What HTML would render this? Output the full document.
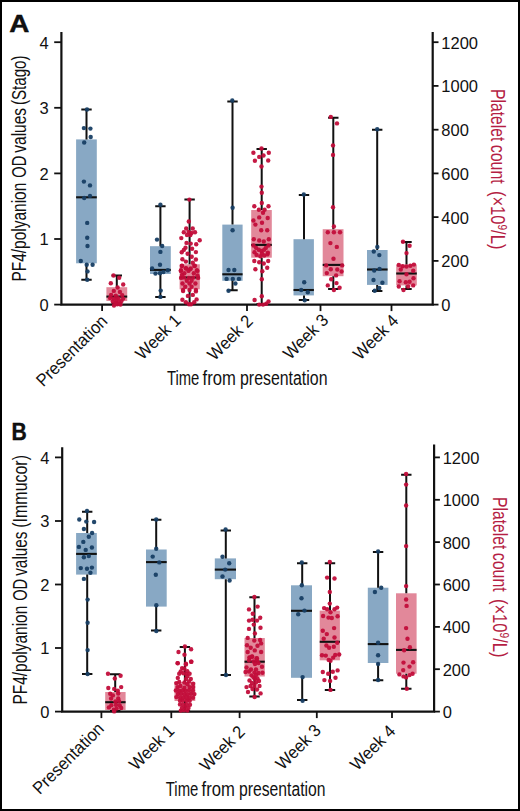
<!DOCTYPE html>
<html><head><meta charset="utf-8"><style>
html,body{margin:0;padding:0;background:#fff;}
body{width:520px;height:811px;overflow:hidden;}
svg{display:block;}
text{font-family:"Liberation Sans",sans-serif;fill:#111;}
.tk{font-size:16.5px;}
.cat{font-size:17.5px;}
.ttl{font-size:19.5px;}
.lab{font-size:24px;font-weight:bold;stroke:#000;stroke-width:0.4px;}
</style></head><body>
<svg width="520" height="811" viewBox="0 0 520 811">
<rect x="0" y="0" width="520" height="811" fill="#fff"/>
<rect x="76.1" y="139.4" width="20.7" height="123.9" fill="#88a8c4"/>
<line x1="76.1" y1="197.3" x2="96.8" y2="197.3" stroke="#111111" stroke-width="2.1"/>
<rect x="106.4" y="287.2" width="20.8" height="13.8" fill="#e2889a"/>
<line x1="106.4" y1="296.6" x2="127.2" y2="296.6" stroke="#111111" stroke-width="2.1"/>
<rect x="150.0" y="246.2" width="20.8" height="27.8" fill="#88a8c4"/>
<line x1="150.0" y1="269.9" x2="170.8" y2="269.9" stroke="#111111" stroke-width="2.1"/>
<rect x="179.6" y="264.3" width="20.2" height="25.0" fill="#e2889a"/>
<line x1="179.6" y1="277.5" x2="199.8" y2="277.5" stroke="#111111" stroke-width="2.1"/>
<rect x="222.3" y="224.6" width="20.3" height="56.2" fill="#88a8c4"/>
<line x1="222.3" y1="274.3" x2="242.6" y2="274.3" stroke="#111111" stroke-width="2.1"/>
<rect x="251.2" y="210.0" width="20.6" height="47.7" fill="#e2889a"/>
<line x1="251.2" y1="244.9" x2="271.8" y2="244.9" stroke="#111111" stroke-width="2.1"/>
<rect x="293.5" y="239.2" width="20.4" height="56.2" fill="#88a8c4"/>
<line x1="293.5" y1="290.0" x2="313.9" y2="290.0" stroke="#111111" stroke-width="2.1"/>
<rect x="322.7" y="229.2" width="20.8" height="47.0" fill="#e2889a"/>
<line x1="322.7" y1="264.9" x2="343.5" y2="264.9" stroke="#111111" stroke-width="2.1"/>
<rect x="367.0" y="250.0" width="20.6" height="34.9" fill="#88a8c4"/>
<line x1="367.0" y1="269.5" x2="387.6" y2="269.5" stroke="#111111" stroke-width="2.1"/>
<rect x="396.2" y="264.6" width="20.6" height="20.8" fill="#e2889a"/>
<line x1="396.2" y1="273.5" x2="416.8" y2="273.5" stroke="#111111" stroke-width="2.1"/>
<path d="M86.5 109.5V139.4M86.5 263.3V279.8M81.3 109.5H91.7M81.3 279.8H91.7" stroke="#111111" stroke-width="2.0" fill="none"/>
<path d="M116.8 275.5V287.2M116.8 301.0V303.5M111.6 275.5H122.0M111.6 303.5H122.0" stroke="#111111" stroke-width="2.0" fill="none"/>
<path d="M160.4 206.3V246.2M160.4 274.0V296.9M155.2 206.3H165.6M155.2 296.9H165.6" stroke="#111111" stroke-width="2.0" fill="none"/>
<path d="M189.6 199.6V264.3M189.6 289.3V304.0M184.4 199.6H194.8M184.4 304.0H194.8" stroke="#111111" stroke-width="2.0" fill="none"/>
<path d="M232.5 101.5V224.6M232.5 280.8V290.3M227.3 101.5H237.7M227.3 290.3H237.7" stroke="#111111" stroke-width="2.0" fill="none"/>
<path d="M261.7 148.9V210.0M261.7 257.7V304.0M256.5 148.9H266.9M256.5 304.0H266.9" stroke="#111111" stroke-width="2.0" fill="none"/>
<path d="M304.0 195.1V239.2M304.0 295.4V300.0M298.8 195.1H309.2M298.8 300.0H309.2" stroke="#111111" stroke-width="2.0" fill="none"/>
<path d="M333.3 117.7V229.2M333.3 276.2V288.9M328.1 117.7H338.5M328.1 288.9H338.5" stroke="#111111" stroke-width="2.0" fill="none"/>
<path d="M377.2 129.7V250.0M377.2 284.9V291.1M372.0 129.7H382.4M372.0 291.1H382.4" stroke="#111111" stroke-width="2.0" fill="none"/>
<path d="M406.5 242.0V264.6M406.5 285.4V288.9M401.3 242.0H411.7M401.3 288.9H411.7" stroke="#111111" stroke-width="2.0" fill="none"/>
<path d="M61.4 32 V304.6 H432.7 V32" fill="none" stroke="#111111" stroke-width="2.2"/>
<circle cx="87.0" cy="109.5" r="2.2" fill="#173e64" fill-opacity="0.95"/>
<circle cx="83.9" cy="128.1" r="2.2" fill="#173e64" fill-opacity="0.95"/>
<circle cx="90.4" cy="128.6" r="2.2" fill="#173e64" fill-opacity="0.95"/>
<circle cx="90.7" cy="137.0" r="2.2" fill="#173e64" fill-opacity="0.95"/>
<circle cx="84.2" cy="142.5" r="2.2" fill="#173e64" fill-opacity="0.95"/>
<circle cx="83.9" cy="181.6" r="2.2" fill="#173e64" fill-opacity="0.95"/>
<circle cx="90.0" cy="185.4" r="2.2" fill="#173e64" fill-opacity="0.95"/>
<circle cx="84.2" cy="198.0" r="2.2" fill="#173e64" fill-opacity="0.95"/>
<circle cx="90.0" cy="195.9" r="2.2" fill="#173e64" fill-opacity="0.95"/>
<circle cx="87.2" cy="222.9" r="2.2" fill="#173e64" fill-opacity="0.95"/>
<circle cx="87.2" cy="237.7" r="2.2" fill="#173e64" fill-opacity="0.95"/>
<circle cx="87.5" cy="246.0" r="2.2" fill="#173e64" fill-opacity="0.95"/>
<circle cx="80.8" cy="261.0" r="2.2" fill="#173e64" fill-opacity="0.95"/>
<circle cx="86.7" cy="264.7" r="2.2" fill="#173e64" fill-opacity="0.95"/>
<circle cx="92.6" cy="264.7" r="2.2" fill="#173e64" fill-opacity="0.95"/>
<circle cx="87.5" cy="271.4" r="2.2" fill="#173e64" fill-opacity="0.95"/>
<circle cx="87.2" cy="279.8" r="2.2" fill="#173e64" fill-opacity="0.95"/>
<circle cx="113.5" cy="275.5" r="2.2" fill="#c20d3a" fill-opacity="0.95"/>
<circle cx="119.2" cy="277.8" r="2.2" fill="#c20d3a" fill-opacity="0.95"/>
<circle cx="110.8" cy="283.3" r="2.2" fill="#c20d3a" fill-opacity="0.95"/>
<circle cx="123.2" cy="284.5" r="2.2" fill="#c20d3a" fill-opacity="0.95"/>
<circle cx="117.6" cy="287.5" r="2.2" fill="#c20d3a" fill-opacity="0.95"/>
<circle cx="113.8" cy="290.9" r="2.2" fill="#c20d3a" fill-opacity="0.95"/>
<circle cx="119.9" cy="291.9" r="2.2" fill="#c20d3a" fill-opacity="0.95"/>
<circle cx="111.1" cy="294.9" r="2.2" fill="#c20d3a" fill-opacity="0.95"/>
<circle cx="115.8" cy="295.6" r="2.2" fill="#c20d3a" fill-opacity="0.95"/>
<circle cx="122.2" cy="295.3" r="2.2" fill="#c20d3a" fill-opacity="0.95"/>
<circle cx="110.1" cy="298.0" r="2.2" fill="#c20d3a" fill-opacity="0.95"/>
<circle cx="113.8" cy="298.6" r="2.2" fill="#c20d3a" fill-opacity="0.95"/>
<circle cx="118.2" cy="298.3" r="2.2" fill="#c20d3a" fill-opacity="0.95"/>
<circle cx="123.2" cy="298.6" r="2.2" fill="#c20d3a" fill-opacity="0.95"/>
<circle cx="112.8" cy="301.6" r="2.2" fill="#c20d3a" fill-opacity="0.95"/>
<circle cx="115.5" cy="303.0" r="2.2" fill="#c20d3a" fill-opacity="0.95"/>
<circle cx="119.2" cy="302.3" r="2.2" fill="#c20d3a" fill-opacity="0.95"/>
<circle cx="121.5" cy="301.0" r="2.2" fill="#c20d3a" fill-opacity="0.95"/>
<circle cx="117.2" cy="304.3" r="2.2" fill="#c20d3a" fill-opacity="0.95"/>
<circle cx="116.5" cy="300.0" r="2.2" fill="#c20d3a" fill-opacity="0.95"/>
<circle cx="120.5" cy="304.5" r="2.2" fill="#c20d3a" fill-opacity="0.95"/>
<circle cx="114.0" cy="305.5" r="2.2" fill="#c20d3a" fill-opacity="0.95"/>
<circle cx="160.4" cy="204.8" r="2.2" fill="#173e64" fill-opacity="0.95"/>
<circle cx="157.0" cy="239.6" r="2.2" fill="#173e64" fill-opacity="0.95"/>
<circle cx="162.2" cy="246.0" r="2.2" fill="#173e64" fill-opacity="0.95"/>
<circle cx="160.4" cy="251.9" r="2.2" fill="#173e64" fill-opacity="0.95"/>
<circle cx="160.0" cy="264.7" r="2.2" fill="#173e64" fill-opacity="0.95"/>
<circle cx="152.1" cy="268.4" r="2.2" fill="#173e64" fill-opacity="0.95"/>
<circle cx="155.5" cy="273.6" r="2.2" fill="#173e64" fill-opacity="0.95"/>
<circle cx="160.0" cy="273.2" r="2.2" fill="#173e64" fill-opacity="0.95"/>
<circle cx="163.4" cy="272.1" r="2.2" fill="#173e64" fill-opacity="0.95"/>
<circle cx="167.8" cy="270.2" r="2.2" fill="#173e64" fill-opacity="0.95"/>
<circle cx="160.7" cy="290.6" r="2.2" fill="#173e64" fill-opacity="0.95"/>
<circle cx="160.4" cy="296.9" r="2.2" fill="#173e64" fill-opacity="0.95"/>
<circle cx="189.4" cy="199.6" r="2.2" fill="#c20d3a" fill-opacity="0.95"/>
<circle cx="188.8" cy="221.5" r="2.2" fill="#c20d3a" fill-opacity="0.95"/>
<circle cx="186.2" cy="228.5" r="2.2" fill="#c20d3a" fill-opacity="0.95"/>
<circle cx="192.7" cy="228.5" r="2.2" fill="#c20d3a" fill-opacity="0.95"/>
<circle cx="183.8" cy="232.3" r="2.2" fill="#c20d3a" fill-opacity="0.95"/>
<circle cx="188.5" cy="232.0" r="2.2" fill="#c20d3a" fill-opacity="0.95"/>
<circle cx="191.5" cy="233.0" r="2.2" fill="#c20d3a" fill-opacity="0.95"/>
<circle cx="195.0" cy="232.3" r="2.2" fill="#c20d3a" fill-opacity="0.95"/>
<circle cx="187.0" cy="235.0" r="2.2" fill="#c20d3a" fill-opacity="0.95"/>
<circle cx="190.4" cy="235.0" r="2.2" fill="#c20d3a" fill-opacity="0.95"/>
<circle cx="181.3" cy="238.1" r="2.2" fill="#c20d3a" fill-opacity="0.95"/>
<circle cx="199.7" cy="240.2" r="2.2" fill="#c20d3a" fill-opacity="0.95"/>
<circle cx="186.5" cy="242.9" r="2.2" fill="#c20d3a" fill-opacity="0.95"/>
<circle cx="190.7" cy="243.6" r="2.2" fill="#c20d3a" fill-opacity="0.95"/>
<circle cx="196.2" cy="244.3" r="2.2" fill="#c20d3a" fill-opacity="0.95"/>
<circle cx="185.5" cy="247.8" r="2.2" fill="#c20d3a" fill-opacity="0.95"/>
<circle cx="183.8" cy="249.9" r="2.2" fill="#c20d3a" fill-opacity="0.95"/>
<circle cx="181.7" cy="252.3" r="2.2" fill="#c20d3a" fill-opacity="0.95"/>
<circle cx="192.1" cy="248.8" r="2.2" fill="#c20d3a" fill-opacity="0.95"/>
<circle cx="195.9" cy="252.1" r="2.2" fill="#c20d3a" fill-opacity="0.95"/>
<circle cx="187.6" cy="253.7" r="2.2" fill="#c20d3a" fill-opacity="0.95"/>
<circle cx="191.7" cy="256.8" r="2.2" fill="#c20d3a" fill-opacity="0.95"/>
<circle cx="182.4" cy="259.2" r="2.2" fill="#c20d3a" fill-opacity="0.95"/>
<circle cx="185.9" cy="261.6" r="2.2" fill="#c20d3a" fill-opacity="0.95"/>
<circle cx="195.9" cy="259.5" r="2.2" fill="#c20d3a" fill-opacity="0.95"/>
<circle cx="192.8" cy="262.7" r="2.2" fill="#c20d3a" fill-opacity="0.95"/>
<circle cx="182.0" cy="265.8" r="2.2" fill="#c20d3a" fill-opacity="0.95"/>
<circle cx="194.9" cy="265.8" r="2.2" fill="#c20d3a" fill-opacity="0.95"/>
<circle cx="185.9" cy="268.2" r="2.2" fill="#c20d3a" fill-opacity="0.95"/>
<circle cx="181.0" cy="270.3" r="2.2" fill="#c20d3a" fill-opacity="0.95"/>
<circle cx="190.0" cy="269.2" r="2.2" fill="#c20d3a" fill-opacity="0.95"/>
<circle cx="196.9" cy="270.3" r="2.2" fill="#c20d3a" fill-opacity="0.95"/>
<circle cx="181.9" cy="266.0" r="2.2" fill="#c20d3a" fill-opacity="0.95"/>
<circle cx="194.3" cy="266.0" r="2.2" fill="#c20d3a" fill-opacity="0.95"/>
<circle cx="186.0" cy="268.5" r="2.2" fill="#c20d3a" fill-opacity="0.95"/>
<circle cx="190.8" cy="268.5" r="2.2" fill="#c20d3a" fill-opacity="0.95"/>
<circle cx="180.8" cy="270.9" r="2.2" fill="#c20d3a" fill-opacity="0.95"/>
<circle cx="188.4" cy="270.9" r="2.2" fill="#c20d3a" fill-opacity="0.95"/>
<circle cx="197.5" cy="270.9" r="2.2" fill="#c20d3a" fill-opacity="0.95"/>
<circle cx="184.3" cy="273.3" r="2.2" fill="#c20d3a" fill-opacity="0.95"/>
<circle cx="193.8" cy="273.3" r="2.2" fill="#c20d3a" fill-opacity="0.95"/>
<circle cx="181.1" cy="277.9" r="2.2" fill="#c20d3a" fill-opacity="0.95"/>
<circle cx="184.1" cy="277.6" r="2.2" fill="#c20d3a" fill-opacity="0.95"/>
<circle cx="188.9" cy="277.9" r="2.2" fill="#c20d3a" fill-opacity="0.95"/>
<circle cx="193.2" cy="277.6" r="2.2" fill="#c20d3a" fill-opacity="0.95"/>
<circle cx="198.1" cy="277.9" r="2.2" fill="#c20d3a" fill-opacity="0.95"/>
<circle cx="186.8" cy="280.8" r="2.2" fill="#c20d3a" fill-opacity="0.95"/>
<circle cx="191.6" cy="280.8" r="2.2" fill="#c20d3a" fill-opacity="0.95"/>
<circle cx="182.5" cy="283.5" r="2.2" fill="#c20d3a" fill-opacity="0.95"/>
<circle cx="189.5" cy="283.5" r="2.2" fill="#c20d3a" fill-opacity="0.95"/>
<circle cx="195.4" cy="283.5" r="2.2" fill="#c20d3a" fill-opacity="0.95"/>
<circle cx="185.2" cy="286.8" r="2.2" fill="#c20d3a" fill-opacity="0.95"/>
<circle cx="191.6" cy="286.8" r="2.2" fill="#c20d3a" fill-opacity="0.95"/>
<circle cx="183.0" cy="290.0" r="2.2" fill="#c20d3a" fill-opacity="0.95"/>
<circle cx="189.5" cy="290.0" r="2.2" fill="#c20d3a" fill-opacity="0.95"/>
<circle cx="195.9" cy="290.0" r="2.2" fill="#c20d3a" fill-opacity="0.95"/>
<circle cx="197.5" cy="275.5" r="2.2" fill="#c20d3a" fill-opacity="0.95"/>
<circle cx="182.0" cy="275.0" r="2.2" fill="#c20d3a" fill-opacity="0.95"/>
<circle cx="183.1" cy="291.1" r="2.2" fill="#c20d3a" fill-opacity="0.95"/>
<circle cx="195.9" cy="291.4" r="2.2" fill="#c20d3a" fill-opacity="0.95"/>
<circle cx="187.9" cy="295.9" r="2.2" fill="#c20d3a" fill-opacity="0.95"/>
<circle cx="192.8" cy="294.9" r="2.2" fill="#c20d3a" fill-opacity="0.95"/>
<circle cx="182.4" cy="299.7" r="2.2" fill="#c20d3a" fill-opacity="0.95"/>
<circle cx="196.6" cy="299.4" r="2.2" fill="#c20d3a" fill-opacity="0.95"/>
<circle cx="185.9" cy="302.2" r="2.2" fill="#c20d3a" fill-opacity="0.95"/>
<circle cx="194.2" cy="302.2" r="2.2" fill="#c20d3a" fill-opacity="0.95"/>
<circle cx="189.0" cy="304.2" r="2.2" fill="#c20d3a" fill-opacity="0.95"/>
<circle cx="191.0" cy="304.2" r="2.2" fill="#c20d3a" fill-opacity="0.95"/>
<circle cx="232.3" cy="100.5" r="2.2" fill="#173e64" fill-opacity="0.95"/>
<circle cx="232.6" cy="207.7" r="2.2" fill="#173e64" fill-opacity="0.95"/>
<circle cx="232.6" cy="230.3" r="2.2" fill="#173e64" fill-opacity="0.95"/>
<circle cx="228.5" cy="270.0" r="2.2" fill="#173e64" fill-opacity="0.95"/>
<circle cx="234.3" cy="270.0" r="2.2" fill="#173e64" fill-opacity="0.95"/>
<circle cx="226.6" cy="278.9" r="2.2" fill="#173e64" fill-opacity="0.95"/>
<circle cx="232.8" cy="278.9" r="2.2" fill="#173e64" fill-opacity="0.95"/>
<circle cx="238.9" cy="278.9" r="2.2" fill="#173e64" fill-opacity="0.95"/>
<circle cx="235.4" cy="283.5" r="2.2" fill="#173e64" fill-opacity="0.95"/>
<circle cx="228.5" cy="290.8" r="2.2" fill="#173e64" fill-opacity="0.95"/>
<circle cx="261.5" cy="148.5" r="2.2" fill="#c20d3a" fill-opacity="0.95"/>
<circle cx="253.4" cy="152.8" r="2.2" fill="#c20d3a" fill-opacity="0.95"/>
<circle cx="268.8" cy="152.8" r="2.2" fill="#c20d3a" fill-opacity="0.95"/>
<circle cx="259.2" cy="156.9" r="2.2" fill="#c20d3a" fill-opacity="0.95"/>
<circle cx="263.5" cy="155.5" r="2.2" fill="#c20d3a" fill-opacity="0.95"/>
<circle cx="254.9" cy="160.8" r="2.2" fill="#c20d3a" fill-opacity="0.95"/>
<circle cx="268.2" cy="160.5" r="2.2" fill="#c20d3a" fill-opacity="0.95"/>
<circle cx="261.5" cy="166.5" r="2.2" fill="#c20d3a" fill-opacity="0.95"/>
<circle cx="261.5" cy="186.6" r="2.2" fill="#c20d3a" fill-opacity="0.95"/>
<circle cx="261.8" cy="192.8" r="2.2" fill="#c20d3a" fill-opacity="0.95"/>
<circle cx="261.8" cy="203.0" r="2.2" fill="#c20d3a" fill-opacity="0.95"/>
<circle cx="254.3" cy="206.2" r="2.2" fill="#c20d3a" fill-opacity="0.95"/>
<circle cx="268.5" cy="206.2" r="2.2" fill="#c20d3a" fill-opacity="0.95"/>
<circle cx="258.9" cy="209.7" r="2.2" fill="#c20d3a" fill-opacity="0.95"/>
<circle cx="264.6" cy="209.7" r="2.2" fill="#c20d3a" fill-opacity="0.95"/>
<circle cx="263.0" cy="212.8" r="2.2" fill="#c20d3a" fill-opacity="0.95"/>
<circle cx="259.2" cy="217.4" r="2.2" fill="#c20d3a" fill-opacity="0.95"/>
<circle cx="267.7" cy="218.0" r="2.2" fill="#c20d3a" fill-opacity="0.95"/>
<circle cx="253.4" cy="220.5" r="2.2" fill="#c20d3a" fill-opacity="0.95"/>
<circle cx="255.4" cy="224.6" r="2.2" fill="#c20d3a" fill-opacity="0.95"/>
<circle cx="262.0" cy="222.8" r="2.2" fill="#c20d3a" fill-opacity="0.95"/>
<circle cx="261.2" cy="230.3" r="2.2" fill="#c20d3a" fill-opacity="0.95"/>
<circle cx="267.2" cy="230.3" r="2.2" fill="#c20d3a" fill-opacity="0.95"/>
<circle cx="253.8" cy="239.2" r="2.2" fill="#c20d3a" fill-opacity="0.95"/>
<circle cx="259.2" cy="240.5" r="2.2" fill="#c20d3a" fill-opacity="0.95"/>
<circle cx="263.8" cy="241.5" r="2.2" fill="#c20d3a" fill-opacity="0.95"/>
<circle cx="268.8" cy="239.2" r="2.2" fill="#c20d3a" fill-opacity="0.95"/>
<circle cx="256.1" cy="247.9" r="2.2" fill="#c20d3a" fill-opacity="0.95"/>
<circle cx="265.8" cy="247.9" r="2.2" fill="#c20d3a" fill-opacity="0.95"/>
<circle cx="258.8" cy="249.8" r="2.2" fill="#c20d3a" fill-opacity="0.95"/>
<circle cx="264.2" cy="249.8" r="2.2" fill="#c20d3a" fill-opacity="0.95"/>
<circle cx="254.5" cy="252.2" r="2.2" fill="#c20d3a" fill-opacity="0.95"/>
<circle cx="261.5" cy="251.0" r="2.2" fill="#c20d3a" fill-opacity="0.95"/>
<circle cx="267.9" cy="252.8" r="2.2" fill="#c20d3a" fill-opacity="0.95"/>
<circle cx="256.6" cy="254.9" r="2.2" fill="#c20d3a" fill-opacity="0.95"/>
<circle cx="260.4" cy="256.3" r="2.2" fill="#c20d3a" fill-opacity="0.95"/>
<circle cx="264.2" cy="255.5" r="2.2" fill="#c20d3a" fill-opacity="0.95"/>
<circle cx="267.4" cy="254.4" r="2.2" fill="#c20d3a" fill-opacity="0.95"/>
<circle cx="253.5" cy="245.5" r="2.2" fill="#c20d3a" fill-opacity="0.95"/>
<circle cx="268.5" cy="245.5" r="2.2" fill="#c20d3a" fill-opacity="0.95"/>
<circle cx="262.0" cy="253.5" r="2.2" fill="#c20d3a" fill-opacity="0.95"/>
<circle cx="254.3" cy="261.0" r="2.2" fill="#c20d3a" fill-opacity="0.95"/>
<circle cx="259.2" cy="262.3" r="2.2" fill="#c20d3a" fill-opacity="0.95"/>
<circle cx="263.8" cy="263.5" r="2.2" fill="#c20d3a" fill-opacity="0.95"/>
<circle cx="268.2" cy="261.0" r="2.2" fill="#c20d3a" fill-opacity="0.95"/>
<circle cx="255.4" cy="269.2" r="2.2" fill="#c20d3a" fill-opacity="0.95"/>
<circle cx="267.2" cy="267.7" r="2.2" fill="#c20d3a" fill-opacity="0.95"/>
<circle cx="262.3" cy="271.2" r="2.2" fill="#c20d3a" fill-opacity="0.95"/>
<circle cx="261.8" cy="279.2" r="2.2" fill="#c20d3a" fill-opacity="0.95"/>
<circle cx="261.8" cy="296.2" r="2.2" fill="#c20d3a" fill-opacity="0.95"/>
<circle cx="254.6" cy="300.0" r="2.2" fill="#c20d3a" fill-opacity="0.95"/>
<circle cx="259.2" cy="304.6" r="2.2" fill="#c20d3a" fill-opacity="0.95"/>
<circle cx="263.0" cy="304.6" r="2.2" fill="#c20d3a" fill-opacity="0.95"/>
<circle cx="268.5" cy="301.5" r="2.2" fill="#c20d3a" fill-opacity="0.95"/>
<circle cx="266.2" cy="303.8" r="2.2" fill="#c20d3a" fill-opacity="0.95"/>
<circle cx="303.8" cy="194.5" r="2.2" fill="#173e64" fill-opacity="0.95"/>
<circle cx="304.2" cy="282.3" r="2.2" fill="#173e64" fill-opacity="0.95"/>
<circle cx="301.2" cy="290.0" r="2.2" fill="#173e64" fill-opacity="0.95"/>
<circle cx="307.8" cy="292.3" r="2.2" fill="#173e64" fill-opacity="0.95"/>
<circle cx="304.7" cy="300.3" r="2.2" fill="#173e64" fill-opacity="0.95"/>
<circle cx="330.8" cy="116.9" r="2.2" fill="#c20d3a" fill-opacity="0.95"/>
<circle cx="337.0" cy="123.4" r="2.2" fill="#c20d3a" fill-opacity="0.95"/>
<circle cx="333.0" cy="145.4" r="2.2" fill="#c20d3a" fill-opacity="0.95"/>
<circle cx="333.0" cy="154.9" r="2.2" fill="#c20d3a" fill-opacity="0.95"/>
<circle cx="333.0" cy="207.2" r="2.2" fill="#c20d3a" fill-opacity="0.95"/>
<circle cx="333.9" cy="226.5" r="2.2" fill="#c20d3a" fill-opacity="0.95"/>
<circle cx="327.8" cy="232.3" r="2.2" fill="#c20d3a" fill-opacity="0.95"/>
<circle cx="333.9" cy="232.3" r="2.2" fill="#c20d3a" fill-opacity="0.95"/>
<circle cx="340.0" cy="232.3" r="2.2" fill="#c20d3a" fill-opacity="0.95"/>
<circle cx="330.4" cy="243.1" r="2.2" fill="#c20d3a" fill-opacity="0.95"/>
<circle cx="336.8" cy="246.9" r="2.2" fill="#c20d3a" fill-opacity="0.95"/>
<circle cx="333.5" cy="258.8" r="2.2" fill="#c20d3a" fill-opacity="0.95"/>
<circle cx="326.2" cy="265.4" r="2.2" fill="#c20d3a" fill-opacity="0.95"/>
<circle cx="342.2" cy="265.4" r="2.2" fill="#c20d3a" fill-opacity="0.95"/>
<circle cx="330.8" cy="269.2" r="2.2" fill="#c20d3a" fill-opacity="0.95"/>
<circle cx="337.3" cy="269.5" r="2.2" fill="#c20d3a" fill-opacity="0.95"/>
<circle cx="326.8" cy="273.1" r="2.2" fill="#c20d3a" fill-opacity="0.95"/>
<circle cx="341.6" cy="271.5" r="2.2" fill="#c20d3a" fill-opacity="0.95"/>
<circle cx="336.1" cy="275.4" r="2.2" fill="#c20d3a" fill-opacity="0.95"/>
<circle cx="331.2" cy="279.2" r="2.2" fill="#c20d3a" fill-opacity="0.95"/>
<circle cx="336.5" cy="283.1" r="2.2" fill="#c20d3a" fill-opacity="0.95"/>
<circle cx="327.8" cy="285.4" r="2.2" fill="#c20d3a" fill-opacity="0.95"/>
<circle cx="339.6" cy="287.7" r="2.2" fill="#c20d3a" fill-opacity="0.95"/>
<circle cx="333.9" cy="290.0" r="2.2" fill="#c20d3a" fill-opacity="0.95"/>
<circle cx="377.2" cy="129.2" r="2.2" fill="#173e64" fill-opacity="0.95"/>
<circle cx="377.3" cy="246.9" r="2.2" fill="#173e64" fill-opacity="0.95"/>
<circle cx="373.8" cy="251.5" r="2.2" fill="#173e64" fill-opacity="0.95"/>
<circle cx="379.3" cy="255.1" r="2.2" fill="#173e64" fill-opacity="0.95"/>
<circle cx="374.2" cy="270.5" r="2.2" fill="#173e64" fill-opacity="0.95"/>
<circle cx="379.6" cy="268.9" r="2.2" fill="#173e64" fill-opacity="0.95"/>
<circle cx="373.5" cy="280.0" r="2.2" fill="#173e64" fill-opacity="0.95"/>
<circle cx="382.4" cy="282.8" r="2.2" fill="#173e64" fill-opacity="0.95"/>
<circle cx="379.3" cy="288.0" r="2.2" fill="#173e64" fill-opacity="0.95"/>
<circle cx="374.7" cy="290.8" r="2.2" fill="#173e64" fill-opacity="0.95"/>
<circle cx="403.0" cy="241.8" r="2.2" fill="#c20d3a" fill-opacity="0.95"/>
<circle cx="409.6" cy="245.8" r="2.2" fill="#c20d3a" fill-opacity="0.95"/>
<circle cx="406.5" cy="253.1" r="2.2" fill="#c20d3a" fill-opacity="0.95"/>
<circle cx="398.8" cy="264.9" r="2.2" fill="#c20d3a" fill-opacity="0.95"/>
<circle cx="402.7" cy="266.2" r="2.2" fill="#c20d3a" fill-opacity="0.95"/>
<circle cx="406.5" cy="266.5" r="2.2" fill="#c20d3a" fill-opacity="0.95"/>
<circle cx="410.4" cy="265.8" r="2.2" fill="#c20d3a" fill-opacity="0.95"/>
<circle cx="413.9" cy="264.6" r="2.2" fill="#c20d3a" fill-opacity="0.95"/>
<circle cx="400.8" cy="269.5" r="2.2" fill="#c20d3a" fill-opacity="0.95"/>
<circle cx="413.2" cy="270.8" r="2.2" fill="#c20d3a" fill-opacity="0.95"/>
<circle cx="406.5" cy="274.2" r="2.2" fill="#c20d3a" fill-opacity="0.95"/>
<circle cx="413.5" cy="278.2" r="2.2" fill="#c20d3a" fill-opacity="0.95"/>
<circle cx="399.6" cy="281.2" r="2.2" fill="#c20d3a" fill-opacity="0.95"/>
<circle cx="405.8" cy="282.3" r="2.2" fill="#c20d3a" fill-opacity="0.95"/>
<circle cx="409.6" cy="281.8" r="2.2" fill="#c20d3a" fill-opacity="0.95"/>
<circle cx="398.8" cy="286.5" r="2.2" fill="#c20d3a" fill-opacity="0.95"/>
<circle cx="408.1" cy="286.5" r="2.2" fill="#c20d3a" fill-opacity="0.95"/>
<circle cx="413.2" cy="285.4" r="2.2" fill="#c20d3a" fill-opacity="0.95"/>
<circle cx="403.5" cy="290.0" r="2.2" fill="#c20d3a" fill-opacity="0.95"/>
<line x1="54.199999999999996" y1="304.6" x2="61.4" y2="304.6" stroke="#111111" stroke-width="1.8"/>
<text x="48.599999999999994" y="310.9" text-anchor="end" class="tk">0</text>
<line x1="54.199999999999996" y1="239.0" x2="61.4" y2="239.0" stroke="#111111" stroke-width="1.8"/>
<text x="48.599999999999994" y="245.3" text-anchor="end" class="tk">1</text>
<line x1="54.199999999999996" y1="173.4" x2="61.4" y2="173.4" stroke="#111111" stroke-width="1.8"/>
<text x="48.599999999999994" y="179.7" text-anchor="end" class="tk">2</text>
<line x1="54.199999999999996" y1="107.8" x2="61.4" y2="107.8" stroke="#111111" stroke-width="1.8"/>
<text x="48.599999999999994" y="114.1" text-anchor="end" class="tk">3</text>
<line x1="54.199999999999996" y1="42.2" x2="61.4" y2="42.2" stroke="#111111" stroke-width="1.8"/>
<text x="48.599999999999994" y="48.5" text-anchor="end" class="tk">4</text>
<line x1="432.7" y1="304.6" x2="438.5" y2="304.6" stroke="#111111" stroke-width="1.8"/>
<text x="441.3" y="311.0" class="tk">0</text>
<line x1="432.7" y1="260.9" x2="438.5" y2="260.9" stroke="#111111" stroke-width="1.8"/>
<text x="441.3" y="267.3" class="tk">200</text>
<line x1="432.7" y1="217.1" x2="438.5" y2="217.1" stroke="#111111" stroke-width="1.8"/>
<text x="441.3" y="223.5" class="tk">400</text>
<line x1="432.7" y1="173.4" x2="438.5" y2="173.4" stroke="#111111" stroke-width="1.8"/>
<text x="441.3" y="179.8" class="tk">600</text>
<line x1="432.7" y1="129.7" x2="438.5" y2="129.7" stroke="#111111" stroke-width="1.8"/>
<text x="441.3" y="136.1" class="tk">800</text>
<line x1="432.7" y1="85.9" x2="438.5" y2="85.9" stroke="#111111" stroke-width="1.8"/>
<text x="441.3" y="92.3" class="tk">1000</text>
<line x1="432.7" y1="42.2" x2="438.5" y2="42.2" stroke="#111111" stroke-width="1.8"/>
<text x="441.3" y="48.6" class="tk">1200</text>
<line x1="102.1" y1="304.6" x2="102.1" y2="311.1" stroke="#111111" stroke-width="1.8"/>
<line x1="174.5" y1="304.6" x2="174.5" y2="311.1" stroke="#111111" stroke-width="1.8"/>
<line x1="247.0" y1="304.6" x2="247.0" y2="311.1" stroke="#111111" stroke-width="1.8"/>
<line x1="320.5" y1="304.6" x2="320.5" y2="311.1" stroke="#111111" stroke-width="1.8"/>
<line x1="391.5" y1="304.6" x2="391.5" y2="311.1" stroke="#111111" stroke-width="1.8"/>
<text transform="translate(108.6 322.2) rotate(-45)" text-anchor="end" class="cat" textLength="92.5" lengthAdjust="spacingAndGlyphs">Presentation</text>
<text transform="translate(181.9 321.5) rotate(-45)" text-anchor="end" class="cat" textLength="55.6" lengthAdjust="spacingAndGlyphs">Week 1</text>
<text transform="translate(253.9 322.2) rotate(-45)" text-anchor="end" class="cat" textLength="55.6" lengthAdjust="spacingAndGlyphs">Week 2</text>
<text transform="translate(329.6 321.2) rotate(-45)" text-anchor="end" class="cat" textLength="55.6" lengthAdjust="spacingAndGlyphs">Week 3</text>
<text transform="translate(399.6 321.7) rotate(-45)" text-anchor="end" class="cat" textLength="55.6" lengthAdjust="spacingAndGlyphs">Week 4</text>
<text transform="translate(26 281.6) rotate(-90)" class="ttl"  textLength="98.9" lengthAdjust="spacingAndGlyphs">PF4/polyanion</text>
<text transform="translate(26 177.70000000000002) rotate(-90)" class="ttl"  textLength="22.0" lengthAdjust="spacingAndGlyphs">OD</text>
<text transform="translate(26 152.70000000000002) rotate(-90)" class="ttl"  textLength="44.7" lengthAdjust="spacingAndGlyphs">values</text>
<text transform="translate(26 105.0) rotate(-90)" class="ttl"  textLength="49.5" lengthAdjust="spacingAndGlyphs">(Stago)</text>
<text transform="translate(491 89.10000000000001) rotate(90)" class="ttl" style="fill:#b51e44" textLength="52.3" lengthAdjust="spacingAndGlyphs">Platelet</text>
<text transform="translate(491 144.7) rotate(90)" class="ttl" style="fill:#b51e44" textLength="39.0" lengthAdjust="spacingAndGlyphs">count</text>
<text transform="translate(491 190.89999999999998) rotate(90)" class="ttl" style="fill:#b51e44" textLength="58.5" lengthAdjust="spacingAndGlyphs">(×10<tspan dy="-6.5" font-size="12">9</tspan><tspan dy="6.5">/L)</tspan></text>
<text x="166.89999999999998" y="384.8" class="ttl" textLength="32.4" lengthAdjust="spacingAndGlyphs">Time</text>
<text x="202.5" y="384.8" class="ttl" textLength="33.3" lengthAdjust="spacingAndGlyphs">from</text>
<text x="240.0" y="384.8" class="ttl" textLength="87.5" lengthAdjust="spacingAndGlyphs">presentation</text>
<text transform="translate(9.3 31.5) scale(1.16 1)" class="lab">A</text>
<rect x="76.1" y="533.0" width="20.7" height="41.6" fill="#88a8c4"/>
<line x1="76.1" y1="553.9" x2="96.8" y2="553.9" stroke="#111111" stroke-width="2.1"/>
<rect x="105.2" y="692.0" width="20.4" height="18.0" fill="#e2889a"/>
<line x1="105.2" y1="702.2" x2="125.6" y2="702.2" stroke="#111111" stroke-width="2.1"/>
<rect x="146.0" y="549.5" width="20.7" height="57.1" fill="#88a8c4"/>
<line x1="146.0" y1="562.1" x2="166.7" y2="562.1" stroke="#111111" stroke-width="2.1"/>
<rect x="174.5" y="682.0" width="20.8" height="19.0" fill="#e2889a"/>
<rect x="214.8" y="558.4" width="21.2" height="20.8" fill="#88a8c4"/>
<line x1="214.8" y1="569.6" x2="236.0" y2="569.6" stroke="#111111" stroke-width="2.1"/>
<rect x="244.5" y="638.0" width="20.3" height="38.5" fill="#e2889a"/>
<line x1="244.5" y1="661.7" x2="264.8" y2="661.7" stroke="#111111" stroke-width="2.1"/>
<rect x="291.0" y="585.3" width="21.0" height="92.5" fill="#88a8c4"/>
<line x1="291.0" y1="610.8" x2="312.0" y2="610.8" stroke="#111111" stroke-width="2.1"/>
<rect x="319.7" y="610.6" width="20.2" height="49.7" fill="#e2889a"/>
<line x1="319.7" y1="641.8" x2="339.9" y2="641.8" stroke="#111111" stroke-width="2.1"/>
<rect x="367.8" y="587.7" width="20.6" height="75.3" fill="#88a8c4"/>
<line x1="367.8" y1="644.1" x2="388.4" y2="644.1" stroke="#111111" stroke-width="2.1"/>
<rect x="396.0" y="593.3" width="20.6" height="80.4" fill="#e2889a"/>
<line x1="396.0" y1="649.9" x2="416.6" y2="649.9" stroke="#111111" stroke-width="2.1"/>
<path d="M87.2 511.7V533.0M87.2 574.6V674.0M82.0 511.7H92.4M82.0 674.0H92.4" stroke="#111111" stroke-width="2.0" fill="none"/>
<path d="M115.2 674.3V692.0M115.2 710.0V711.0M110.0 674.3H120.4M110.0 711.0H120.4" stroke="#111111" stroke-width="2.0" fill="none"/>
<path d="M156.2 519.8V549.5M156.2 606.6V630.5M151.0 519.8H161.4M151.0 630.5H161.4" stroke="#111111" stroke-width="2.0" fill="none"/>
<path d="M184.9 646.9V682.0M184.9 701.0V711.0M179.7 646.9H190.1M179.7 711.0H190.1" stroke="#111111" stroke-width="2.0" fill="none"/>
<path d="M225.8 530.5V558.4M225.8 579.2V675.0M220.6 530.5H231.0M220.6 675.0H231.0" stroke="#111111" stroke-width="2.0" fill="none"/>
<path d="M254.5 597.3V638.0M254.5 676.5V696.6M249.3 597.3H259.7M249.3 696.6H259.7" stroke="#111111" stroke-width="2.0" fill="none"/>
<path d="M302.2 563.2V585.3M302.2 677.8V700.0M297.0 563.2H307.4M297.0 700.0H307.4" stroke="#111111" stroke-width="2.0" fill="none"/>
<path d="M330.0 563.2V610.6M330.0 660.3V689.9M324.8 563.2H335.2M324.8 689.9H335.2" stroke="#111111" stroke-width="2.0" fill="none"/>
<path d="M378.1 551.9V587.7M378.1 663.0V680.3M372.9 551.9H383.3M372.9 680.3H383.3" stroke="#111111" stroke-width="2.0" fill="none"/>
<path d="M406.3 474.8V593.3M406.3 673.7V688.8M401.1 474.8H411.5M401.1 688.8H411.5" stroke="#111111" stroke-width="2.0" fill="none"/>
<path d="M62.2 447.2 V711.6 H434.1 V444.4" fill="none" stroke="#111111" stroke-width="2.2"/>
<circle cx="87.0" cy="511.0" r="2.2" fill="#173e64" fill-opacity="0.95"/>
<circle cx="79.3" cy="519.5" r="2.2" fill="#173e64" fill-opacity="0.95"/>
<circle cx="86.3" cy="521.6" r="2.2" fill="#173e64" fill-opacity="0.95"/>
<circle cx="94.1" cy="522.0" r="2.2" fill="#173e64" fill-opacity="0.95"/>
<circle cx="83.9" cy="529.0" r="2.2" fill="#173e64" fill-opacity="0.95"/>
<circle cx="92.1" cy="533.0" r="2.2" fill="#173e64" fill-opacity="0.95"/>
<circle cx="88.8" cy="536.7" r="2.2" fill="#173e64" fill-opacity="0.95"/>
<circle cx="83.3" cy="541.9" r="2.2" fill="#173e64" fill-opacity="0.95"/>
<circle cx="78.9" cy="546.9" r="2.2" fill="#173e64" fill-opacity="0.95"/>
<circle cx="91.9" cy="547.5" r="2.2" fill="#173e64" fill-opacity="0.95"/>
<circle cx="85.7" cy="549.9" r="2.2" fill="#173e64" fill-opacity="0.95"/>
<circle cx="83.9" cy="557.3" r="2.2" fill="#173e64" fill-opacity="0.95"/>
<circle cx="88.8" cy="556.1" r="2.2" fill="#173e64" fill-opacity="0.95"/>
<circle cx="80.8" cy="568.1" r="2.2" fill="#173e64" fill-opacity="0.95"/>
<circle cx="87.0" cy="568.8" r="2.2" fill="#173e64" fill-opacity="0.95"/>
<circle cx="91.9" cy="567.6" r="2.2" fill="#173e64" fill-opacity="0.95"/>
<circle cx="90.4" cy="572.7" r="2.2" fill="#173e64" fill-opacity="0.95"/>
<circle cx="83.9" cy="578.9" r="2.2" fill="#173e64" fill-opacity="0.95"/>
<circle cx="87.6" cy="599.6" r="2.2" fill="#173e64" fill-opacity="0.95"/>
<circle cx="87.6" cy="622.7" r="2.2" fill="#173e64" fill-opacity="0.95"/>
<circle cx="87.6" cy="650.1" r="2.2" fill="#173e64" fill-opacity="0.95"/>
<circle cx="87.6" cy="674.0" r="2.2" fill="#173e64" fill-opacity="0.95"/>
<circle cx="108.0" cy="673.8" r="2.2" fill="#c20d3a" fill-opacity="0.95"/>
<circle cx="120.6" cy="675.7" r="2.2" fill="#c20d3a" fill-opacity="0.95"/>
<circle cx="114.8" cy="678.5" r="2.2" fill="#c20d3a" fill-opacity="0.95"/>
<circle cx="108.3" cy="688.0" r="2.2" fill="#c20d3a" fill-opacity="0.95"/>
<circle cx="121.2" cy="687.1" r="2.2" fill="#c20d3a" fill-opacity="0.95"/>
<circle cx="114.2" cy="688.9" r="2.2" fill="#c20d3a" fill-opacity="0.95"/>
<circle cx="117.8" cy="690.8" r="2.2" fill="#c20d3a" fill-opacity="0.95"/>
<circle cx="110.2" cy="693.8" r="2.2" fill="#c20d3a" fill-opacity="0.95"/>
<circle cx="112.9" cy="695.4" r="2.2" fill="#c20d3a" fill-opacity="0.95"/>
<circle cx="118.2" cy="693.5" r="2.2" fill="#c20d3a" fill-opacity="0.95"/>
<circle cx="111.1" cy="698.5" r="2.2" fill="#c20d3a" fill-opacity="0.95"/>
<circle cx="118.2" cy="698.5" r="2.2" fill="#c20d3a" fill-opacity="0.95"/>
<circle cx="115.4" cy="701.5" r="2.2" fill="#c20d3a" fill-opacity="0.95"/>
<circle cx="119.1" cy="701.2" r="2.2" fill="#c20d3a" fill-opacity="0.95"/>
<circle cx="108.9" cy="707.4" r="2.2" fill="#c20d3a" fill-opacity="0.95"/>
<circle cx="111.4" cy="705.2" r="2.2" fill="#c20d3a" fill-opacity="0.95"/>
<circle cx="116.0" cy="704.9" r="2.2" fill="#c20d3a" fill-opacity="0.95"/>
<circle cx="119.7" cy="705.5" r="2.2" fill="#c20d3a" fill-opacity="0.95"/>
<circle cx="121.2" cy="708.0" r="2.2" fill="#c20d3a" fill-opacity="0.95"/>
<circle cx="113.8" cy="709.8" r="2.2" fill="#c20d3a" fill-opacity="0.95"/>
<circle cx="116.6" cy="708.6" r="2.2" fill="#c20d3a" fill-opacity="0.95"/>
<circle cx="114.2" cy="711.4" r="2.2" fill="#c20d3a" fill-opacity="0.95"/>
<circle cx="156.2" cy="519.5" r="2.2" fill="#173e64" fill-opacity="0.95"/>
<circle cx="156.2" cy="548.8" r="2.2" fill="#173e64" fill-opacity="0.95"/>
<circle cx="152.7" cy="556.6" r="2.2" fill="#173e64" fill-opacity="0.95"/>
<circle cx="159.3" cy="562.4" r="2.2" fill="#173e64" fill-opacity="0.95"/>
<circle cx="155.8" cy="574.7" r="2.2" fill="#173e64" fill-opacity="0.95"/>
<circle cx="156.3" cy="605.2" r="2.2" fill="#173e64" fill-opacity="0.95"/>
<circle cx="156.3" cy="631.0" r="2.2" fill="#173e64" fill-opacity="0.95"/>
<circle cx="184.9" cy="646.5" r="2.2" fill="#c20d3a" fill-opacity="0.95"/>
<circle cx="178.5" cy="652.0" r="2.2" fill="#c20d3a" fill-opacity="0.95"/>
<circle cx="191.1" cy="649.2" r="2.2" fill="#c20d3a" fill-opacity="0.95"/>
<circle cx="184.5" cy="654.8" r="2.2" fill="#c20d3a" fill-opacity="0.95"/>
<circle cx="177.5" cy="663.1" r="2.2" fill="#c20d3a" fill-opacity="0.95"/>
<circle cx="191.1" cy="661.7" r="2.2" fill="#c20d3a" fill-opacity="0.95"/>
<circle cx="185.9" cy="664.5" r="2.2" fill="#c20d3a" fill-opacity="0.95"/>
<circle cx="177.8" cy="663.2" r="2.2" fill="#c20d3a" fill-opacity="0.95"/>
<circle cx="185.9" cy="663.8" r="2.2" fill="#c20d3a" fill-opacity="0.95"/>
<circle cx="191.4" cy="661.7" r="2.2" fill="#c20d3a" fill-opacity="0.95"/>
<circle cx="182.1" cy="668.1" r="2.2" fill="#c20d3a" fill-opacity="0.95"/>
<circle cx="184.4" cy="668.7" r="2.2" fill="#c20d3a" fill-opacity="0.95"/>
<circle cx="180.7" cy="671.5" r="2.2" fill="#c20d3a" fill-opacity="0.95"/>
<circle cx="187.3" cy="671.3" r="2.2" fill="#c20d3a" fill-opacity="0.95"/>
<circle cx="179.2" cy="673.8" r="2.2" fill="#c20d3a" fill-opacity="0.95"/>
<circle cx="183.3" cy="673.3" r="2.2" fill="#c20d3a" fill-opacity="0.95"/>
<circle cx="186.2" cy="674.1" r="2.2" fill="#c20d3a" fill-opacity="0.95"/>
<circle cx="189.6" cy="673.8" r="2.2" fill="#c20d3a" fill-opacity="0.95"/>
<circle cx="187.3" cy="676.2" r="2.2" fill="#c20d3a" fill-opacity="0.95"/>
<circle cx="177.8" cy="677.9" r="2.2" fill="#c20d3a" fill-opacity="0.95"/>
<circle cx="190.8" cy="679.0" r="2.2" fill="#c20d3a" fill-opacity="0.95"/>
<circle cx="189.0" cy="681.4" r="2.2" fill="#c20d3a" fill-opacity="0.95"/>
<circle cx="176.3" cy="683.1" r="2.2" fill="#c20d3a" fill-opacity="0.95"/>
<circle cx="179.2" cy="681.9" r="2.2" fill="#c20d3a" fill-opacity="0.95"/>
<circle cx="184.4" cy="682.5" r="2.2" fill="#c20d3a" fill-opacity="0.95"/>
<circle cx="187.3" cy="684.2" r="2.2" fill="#c20d3a" fill-opacity="0.95"/>
<circle cx="193.1" cy="683.7" r="2.2" fill="#c20d3a" fill-opacity="0.95"/>
<circle cx="180.4" cy="686.0" r="2.2" fill="#c20d3a" fill-opacity="0.95"/>
<circle cx="177.5" cy="687.1" r="2.2" fill="#c20d3a" fill-opacity="0.95"/>
<circle cx="184.4" cy="687.7" r="2.2" fill="#c20d3a" fill-opacity="0.95"/>
<circle cx="189.6" cy="687.1" r="2.2" fill="#c20d3a" fill-opacity="0.95"/>
<circle cx="193.1" cy="687.1" r="2.2" fill="#c20d3a" fill-opacity="0.95"/>
<circle cx="186.0" cy="679.0" r="2.2" fill="#c20d3a" fill-opacity="0.95"/>
<circle cx="175.8" cy="690.5" r="2.2" fill="#c20d3a" fill-opacity="0.95"/>
<circle cx="179.2" cy="690.6" r="2.2" fill="#c20d3a" fill-opacity="0.95"/>
<circle cx="182.7" cy="690.2" r="2.2" fill="#c20d3a" fill-opacity="0.95"/>
<circle cx="185.5" cy="690.8" r="2.2" fill="#c20d3a" fill-opacity="0.95"/>
<circle cx="189.0" cy="690.3" r="2.2" fill="#c20d3a" fill-opacity="0.95"/>
<circle cx="192.9" cy="690.5" r="2.2" fill="#c20d3a" fill-opacity="0.95"/>
<circle cx="177.9" cy="694.0" r="2.2" fill="#c20d3a" fill-opacity="0.95"/>
<circle cx="181.1" cy="693.7" r="2.2" fill="#c20d3a" fill-opacity="0.95"/>
<circle cx="184.4" cy="694.3" r="2.2" fill="#c20d3a" fill-opacity="0.95"/>
<circle cx="187.6" cy="694.2" r="2.2" fill="#c20d3a" fill-opacity="0.95"/>
<circle cx="191.0" cy="693.7" r="2.2" fill="#c20d3a" fill-opacity="0.95"/>
<circle cx="194.4" cy="694.1" r="2.2" fill="#c20d3a" fill-opacity="0.95"/>
<circle cx="176.3" cy="697.1" r="2.2" fill="#c20d3a" fill-opacity="0.95"/>
<circle cx="180.1" cy="697.5" r="2.2" fill="#c20d3a" fill-opacity="0.95"/>
<circle cx="183.3" cy="697.8" r="2.2" fill="#c20d3a" fill-opacity="0.95"/>
<circle cx="186.6" cy="697.8" r="2.2" fill="#c20d3a" fill-opacity="0.95"/>
<circle cx="189.6" cy="697.7" r="2.2" fill="#c20d3a" fill-opacity="0.95"/>
<circle cx="193.0" cy="697.8" r="2.2" fill="#c20d3a" fill-opacity="0.95"/>
<circle cx="180.0" cy="700.7" r="2.2" fill="#c20d3a" fill-opacity="0.95"/>
<circle cx="182.7" cy="700.8" r="2.2" fill="#c20d3a" fill-opacity="0.95"/>
<circle cx="186.6" cy="700.9" r="2.2" fill="#c20d3a" fill-opacity="0.95"/>
<circle cx="189.7" cy="700.8" r="2.2" fill="#c20d3a" fill-opacity="0.95"/>
<circle cx="180.0" cy="704.4" r="2.2" fill="#c20d3a" fill-opacity="0.95"/>
<circle cx="183.2" cy="704.6" r="2.2" fill="#c20d3a" fill-opacity="0.95"/>
<circle cx="186.7" cy="704.8" r="2.2" fill="#c20d3a" fill-opacity="0.95"/>
<circle cx="190.0" cy="704.8" r="2.2" fill="#c20d3a" fill-opacity="0.95"/>
<circle cx="181.9" cy="707.9" r="2.2" fill="#c20d3a" fill-opacity="0.95"/>
<circle cx="185.1" cy="707.2" r="2.2" fill="#c20d3a" fill-opacity="0.95"/>
<circle cx="188.5" cy="707.9" r="2.2" fill="#c20d3a" fill-opacity="0.95"/>
<circle cx="180.8" cy="710.6" r="2.2" fill="#c20d3a" fill-opacity="0.95"/>
<circle cx="184.0" cy="710.3" r="2.2" fill="#c20d3a" fill-opacity="0.95"/>
<circle cx="187.4" cy="710.6" r="2.2" fill="#c20d3a" fill-opacity="0.95"/>
<circle cx="225.6" cy="529.5" r="2.2" fill="#173e64" fill-opacity="0.95"/>
<circle cx="222.5" cy="556.8" r="2.2" fill="#173e64" fill-opacity="0.95"/>
<circle cx="229.2" cy="563.2" r="2.2" fill="#173e64" fill-opacity="0.95"/>
<circle cx="225.2" cy="569.6" r="2.2" fill="#173e64" fill-opacity="0.95"/>
<circle cx="222.5" cy="576.5" r="2.2" fill="#173e64" fill-opacity="0.95"/>
<circle cx="229.6" cy="580.5" r="2.2" fill="#173e64" fill-opacity="0.95"/>
<circle cx="226.0" cy="675.0" r="2.2" fill="#173e64" fill-opacity="0.95"/>
<circle cx="254.4" cy="597.0" r="2.2" fill="#c20d3a" fill-opacity="0.95"/>
<circle cx="257.6" cy="606.6" r="2.2" fill="#c20d3a" fill-opacity="0.95"/>
<circle cx="249.0" cy="609.4" r="2.2" fill="#c20d3a" fill-opacity="0.95"/>
<circle cx="252.8" cy="613.8" r="2.2" fill="#c20d3a" fill-opacity="0.95"/>
<circle cx="249.0" cy="620.6" r="2.2" fill="#c20d3a" fill-opacity="0.95"/>
<circle cx="252.5" cy="619.8" r="2.2" fill="#c20d3a" fill-opacity="0.95"/>
<circle cx="257.0" cy="620.6" r="2.2" fill="#c20d3a" fill-opacity="0.95"/>
<circle cx="260.2" cy="617.7" r="2.2" fill="#c20d3a" fill-opacity="0.95"/>
<circle cx="253.8" cy="624.6" r="2.2" fill="#c20d3a" fill-opacity="0.95"/>
<circle cx="249.0" cy="628.9" r="2.2" fill="#c20d3a" fill-opacity="0.95"/>
<circle cx="260.5" cy="627.8" r="2.2" fill="#c20d3a" fill-opacity="0.95"/>
<circle cx="254.9" cy="633.4" r="2.2" fill="#c20d3a" fill-opacity="0.95"/>
<circle cx="247.7" cy="637.9" r="2.2" fill="#c20d3a" fill-opacity="0.95"/>
<circle cx="254.3" cy="640.5" r="2.2" fill="#c20d3a" fill-opacity="0.95"/>
<circle cx="260.1" cy="640.0" r="2.2" fill="#c20d3a" fill-opacity="0.95"/>
<circle cx="261.1" cy="643.4" r="2.2" fill="#c20d3a" fill-opacity="0.95"/>
<circle cx="247.0" cy="645.2" r="2.2" fill="#c20d3a" fill-opacity="0.95"/>
<circle cx="250.7" cy="647.8" r="2.2" fill="#c20d3a" fill-opacity="0.95"/>
<circle cx="257.5" cy="645.7" r="2.2" fill="#c20d3a" fill-opacity="0.95"/>
<circle cx="247.7" cy="652.0" r="2.2" fill="#c20d3a" fill-opacity="0.95"/>
<circle cx="254.8" cy="650.4" r="2.2" fill="#c20d3a" fill-opacity="0.95"/>
<circle cx="261.1" cy="652.0" r="2.2" fill="#c20d3a" fill-opacity="0.95"/>
<circle cx="249.6" cy="657.7" r="2.2" fill="#c20d3a" fill-opacity="0.95"/>
<circle cx="252.2" cy="656.7" r="2.2" fill="#c20d3a" fill-opacity="0.95"/>
<circle cx="256.9" cy="658.3" r="2.2" fill="#c20d3a" fill-opacity="0.95"/>
<circle cx="249.5" cy="657.5" r="2.2" fill="#c20d3a" fill-opacity="0.95"/>
<circle cx="252.0" cy="656.5" r="2.2" fill="#c20d3a" fill-opacity="0.95"/>
<circle cx="256.5" cy="658.5" r="2.2" fill="#c20d3a" fill-opacity="0.95"/>
<circle cx="249.0" cy="660.5" r="2.2" fill="#c20d3a" fill-opacity="0.95"/>
<circle cx="253.5" cy="661.5" r="2.2" fill="#c20d3a" fill-opacity="0.95"/>
<circle cx="257.0" cy="661.0" r="2.2" fill="#c20d3a" fill-opacity="0.95"/>
<circle cx="258.5" cy="663.0" r="2.2" fill="#c20d3a" fill-opacity="0.95"/>
<circle cx="255.0" cy="664.0" r="2.2" fill="#c20d3a" fill-opacity="0.95"/>
<circle cx="246.5" cy="667.5" r="2.2" fill="#c20d3a" fill-opacity="0.95"/>
<circle cx="262.0" cy="666.8" r="2.2" fill="#c20d3a" fill-opacity="0.95"/>
<circle cx="251.0" cy="669.5" r="2.2" fill="#c20d3a" fill-opacity="0.95"/>
<circle cx="256.0" cy="669.5" r="2.2" fill="#c20d3a" fill-opacity="0.95"/>
<circle cx="245.5" cy="672.0" r="2.2" fill="#c20d3a" fill-opacity="0.95"/>
<circle cx="249.0" cy="671.5" r="2.2" fill="#c20d3a" fill-opacity="0.95"/>
<circle cx="254.5" cy="672.5" r="2.2" fill="#c20d3a" fill-opacity="0.95"/>
<circle cx="258.5" cy="673.0" r="2.2" fill="#c20d3a" fill-opacity="0.95"/>
<circle cx="262.5" cy="672.8" r="2.2" fill="#c20d3a" fill-opacity="0.95"/>
<circle cx="251.5" cy="675.5" r="2.2" fill="#c20d3a" fill-opacity="0.95"/>
<circle cx="256.0" cy="675.0" r="2.2" fill="#c20d3a" fill-opacity="0.95"/>
<circle cx="253.5" cy="677.5" r="2.2" fill="#c20d3a" fill-opacity="0.95"/>
<circle cx="257.5" cy="678.5" r="2.2" fill="#c20d3a" fill-opacity="0.95"/>
<circle cx="249.5" cy="680.5" r="2.2" fill="#c20d3a" fill-opacity="0.95"/>
<circle cx="255.0" cy="679.0" r="2.2" fill="#c20d3a" fill-opacity="0.95"/>
<circle cx="259.0" cy="681.0" r="2.2" fill="#c20d3a" fill-opacity="0.95"/>
<circle cx="252.0" cy="683.0" r="2.2" fill="#c20d3a" fill-opacity="0.95"/>
<circle cx="256.0" cy="682.5" r="2.2" fill="#c20d3a" fill-opacity="0.95"/>
<circle cx="250.5" cy="686.0" r="2.2" fill="#c20d3a" fill-opacity="0.95"/>
<circle cx="254.5" cy="686.0" r="2.2" fill="#c20d3a" fill-opacity="0.95"/>
<circle cx="259.5" cy="686.0" r="2.2" fill="#c20d3a" fill-opacity="0.95"/>
<circle cx="252.5" cy="689.0" r="2.2" fill="#c20d3a" fill-opacity="0.95"/>
<circle cx="257.0" cy="689.5" r="2.2" fill="#c20d3a" fill-opacity="0.95"/>
<circle cx="248.0" cy="692.0" r="2.2" fill="#c20d3a" fill-opacity="0.95"/>
<circle cx="246.5" cy="687.1" r="2.2" fill="#c20d3a" fill-opacity="0.95"/>
<circle cx="260.6" cy="693.4" r="2.2" fill="#c20d3a" fill-opacity="0.95"/>
<circle cx="254.6" cy="697.0" r="2.2" fill="#c20d3a" fill-opacity="0.95"/>
<circle cx="301.8" cy="562.5" r="2.2" fill="#173e64" fill-opacity="0.95"/>
<circle cx="301.8" cy="585.3" r="2.2" fill="#173e64" fill-opacity="0.95"/>
<circle cx="301.5" cy="598.2" r="2.2" fill="#173e64" fill-opacity="0.95"/>
<circle cx="304.5" cy="610.6" r="2.2" fill="#173e64" fill-opacity="0.95"/>
<circle cx="298.2" cy="614.3" r="2.2" fill="#173e64" fill-opacity="0.95"/>
<circle cx="302.6" cy="677.1" r="2.2" fill="#173e64" fill-opacity="0.95"/>
<circle cx="302.6" cy="700.7" r="2.2" fill="#173e64" fill-opacity="0.95"/>
<circle cx="329.8" cy="562.0" r="2.2" fill="#c20d3a" fill-opacity="0.95"/>
<circle cx="327.1" cy="577.6" r="2.2" fill="#c20d3a" fill-opacity="0.95"/>
<circle cx="334.5" cy="578.5" r="2.2" fill="#c20d3a" fill-opacity="0.95"/>
<circle cx="329.8" cy="592.0" r="2.2" fill="#c20d3a" fill-opacity="0.95"/>
<circle cx="329.8" cy="603.6" r="2.2" fill="#c20d3a" fill-opacity="0.95"/>
<circle cx="324.1" cy="608.1" r="2.2" fill="#c20d3a" fill-opacity="0.95"/>
<circle cx="327.1" cy="609.2" r="2.2" fill="#c20d3a" fill-opacity="0.95"/>
<circle cx="330.5" cy="612.2" r="2.2" fill="#c20d3a" fill-opacity="0.95"/>
<circle cx="334.5" cy="609.2" r="2.2" fill="#c20d3a" fill-opacity="0.95"/>
<circle cx="337.2" cy="607.6" r="2.2" fill="#c20d3a" fill-opacity="0.95"/>
<circle cx="323.1" cy="616.0" r="2.2" fill="#c20d3a" fill-opacity="0.95"/>
<circle cx="328.5" cy="617.6" r="2.2" fill="#c20d3a" fill-opacity="0.95"/>
<circle cx="331.8" cy="618.0" r="2.2" fill="#c20d3a" fill-opacity="0.95"/>
<circle cx="337.6" cy="616.2" r="2.2" fill="#c20d3a" fill-opacity="0.95"/>
<circle cx="334.1" cy="628.1" r="2.2" fill="#c20d3a" fill-opacity="0.95"/>
<circle cx="322.8" cy="630.8" r="2.2" fill="#c20d3a" fill-opacity="0.95"/>
<circle cx="326.8" cy="634.1" r="2.2" fill="#c20d3a" fill-opacity="0.95"/>
<circle cx="334.5" cy="637.5" r="2.2" fill="#c20d3a" fill-opacity="0.95"/>
<circle cx="323.7" cy="638.8" r="2.2" fill="#c20d3a" fill-opacity="0.95"/>
<circle cx="337.2" cy="642.8" r="2.2" fill="#c20d3a" fill-opacity="0.95"/>
<circle cx="326.4" cy="645.5" r="2.2" fill="#c20d3a" fill-opacity="0.95"/>
<circle cx="329.1" cy="647.8" r="2.2" fill="#c20d3a" fill-opacity="0.95"/>
<circle cx="333.8" cy="646.8" r="2.2" fill="#c20d3a" fill-opacity="0.95"/>
<circle cx="322.0" cy="655.3" r="2.2" fill="#c20d3a" fill-opacity="0.95"/>
<circle cx="325.8" cy="655.6" r="2.2" fill="#c20d3a" fill-opacity="0.95"/>
<circle cx="335.2" cy="654.9" r="2.2" fill="#c20d3a" fill-opacity="0.95"/>
<circle cx="339.2" cy="654.5" r="2.2" fill="#c20d3a" fill-opacity="0.95"/>
<circle cx="333.2" cy="657.6" r="2.2" fill="#c20d3a" fill-opacity="0.95"/>
<circle cx="328.7" cy="659.9" r="2.2" fill="#c20d3a" fill-opacity="0.95"/>
<circle cx="330.5" cy="660.7" r="2.2" fill="#c20d3a" fill-opacity="0.95"/>
<circle cx="322.8" cy="672.0" r="2.2" fill="#c20d3a" fill-opacity="0.95"/>
<circle cx="328.2" cy="673.7" r="2.2" fill="#c20d3a" fill-opacity="0.95"/>
<circle cx="332.8" cy="671.7" r="2.2" fill="#c20d3a" fill-opacity="0.95"/>
<circle cx="337.6" cy="670.4" r="2.2" fill="#c20d3a" fill-opacity="0.95"/>
<circle cx="324.4" cy="680.1" r="2.2" fill="#c20d3a" fill-opacity="0.95"/>
<circle cx="330.1" cy="680.9" r="2.2" fill="#c20d3a" fill-opacity="0.95"/>
<circle cx="335.5" cy="677.8" r="2.2" fill="#c20d3a" fill-opacity="0.95"/>
<circle cx="330.5" cy="689.9" r="2.2" fill="#c20d3a" fill-opacity="0.95"/>
<circle cx="378.1" cy="551.5" r="2.2" fill="#173e64" fill-opacity="0.95"/>
<circle cx="381.2" cy="587.7" r="2.2" fill="#173e64" fill-opacity="0.95"/>
<circle cx="374.9" cy="592.0" r="2.2" fill="#173e64" fill-opacity="0.95"/>
<circle cx="378.1" cy="642.8" r="2.2" fill="#173e64" fill-opacity="0.95"/>
<circle cx="378.1" cy="655.3" r="2.2" fill="#173e64" fill-opacity="0.95"/>
<circle cx="378.1" cy="663.9" r="2.2" fill="#173e64" fill-opacity="0.95"/>
<circle cx="378.1" cy="680.0" r="2.2" fill="#173e64" fill-opacity="0.95"/>
<circle cx="406.1" cy="474.0" r="2.2" fill="#c20d3a" fill-opacity="0.95"/>
<circle cx="406.1" cy="484.6" r="2.2" fill="#c20d3a" fill-opacity="0.95"/>
<circle cx="406.1" cy="505.5" r="2.2" fill="#c20d3a" fill-opacity="0.95"/>
<circle cx="406.1" cy="546.1" r="2.2" fill="#c20d3a" fill-opacity="0.95"/>
<circle cx="406.1" cy="586.1" r="2.2" fill="#c20d3a" fill-opacity="0.95"/>
<circle cx="406.1" cy="599.5" r="2.2" fill="#c20d3a" fill-opacity="0.95"/>
<circle cx="406.6" cy="605.9" r="2.2" fill="#c20d3a" fill-opacity="0.95"/>
<circle cx="406.1" cy="628.1" r="2.2" fill="#c20d3a" fill-opacity="0.95"/>
<circle cx="407.5" cy="638.7" r="2.2" fill="#c20d3a" fill-opacity="0.95"/>
<circle cx="409.9" cy="647.2" r="2.2" fill="#c20d3a" fill-opacity="0.95"/>
<circle cx="404.1" cy="650.2" r="2.2" fill="#c20d3a" fill-opacity="0.95"/>
<circle cx="403.5" cy="662.6" r="2.2" fill="#c20d3a" fill-opacity="0.95"/>
<circle cx="413.1" cy="662.3" r="2.2" fill="#c20d3a" fill-opacity="0.95"/>
<circle cx="409.5" cy="666.6" r="2.2" fill="#c20d3a" fill-opacity="0.95"/>
<circle cx="403.2" cy="670.1" r="2.2" fill="#c20d3a" fill-opacity="0.95"/>
<circle cx="399.4" cy="674.4" r="2.2" fill="#c20d3a" fill-opacity="0.95"/>
<circle cx="403.5" cy="676.4" r="2.2" fill="#c20d3a" fill-opacity="0.95"/>
<circle cx="406.1" cy="677.4" r="2.2" fill="#c20d3a" fill-opacity="0.95"/>
<circle cx="409.5" cy="675.1" r="2.2" fill="#c20d3a" fill-opacity="0.95"/>
<circle cx="412.6" cy="673.7" r="2.2" fill="#c20d3a" fill-opacity="0.95"/>
<circle cx="406.8" cy="688.8" r="2.2" fill="#c20d3a" fill-opacity="0.95"/>
<line x1="55.0" y1="711.6" x2="62.2" y2="711.6" stroke="#111111" stroke-width="1.8"/>
<text x="49.400000000000006" y="717.9" text-anchor="end" class="tk">0</text>
<line x1="55.0" y1="648.0" x2="62.2" y2="648.0" stroke="#111111" stroke-width="1.8"/>
<text x="49.400000000000006" y="654.3" text-anchor="end" class="tk">1</text>
<line x1="55.0" y1="584.5" x2="62.2" y2="584.5" stroke="#111111" stroke-width="1.8"/>
<text x="49.400000000000006" y="590.8" text-anchor="end" class="tk">2</text>
<line x1="55.0" y1="521.0" x2="62.2" y2="521.0" stroke="#111111" stroke-width="1.8"/>
<text x="49.400000000000006" y="527.2" text-anchor="end" class="tk">3</text>
<line x1="55.0" y1="457.4" x2="62.2" y2="457.4" stroke="#111111" stroke-width="1.8"/>
<text x="49.400000000000006" y="463.7" text-anchor="end" class="tk">4</text>
<line x1="434.1" y1="711.6" x2="439.90000000000003" y2="711.6" stroke="#111111" stroke-width="1.8"/>
<text x="442.70000000000005" y="718.0" class="tk">0</text>
<line x1="434.1" y1="669.2" x2="439.90000000000003" y2="669.2" stroke="#111111" stroke-width="1.8"/>
<text x="442.70000000000005" y="675.6" class="tk">200</text>
<line x1="434.1" y1="626.9" x2="439.90000000000003" y2="626.9" stroke="#111111" stroke-width="1.8"/>
<text x="442.70000000000005" y="633.3" class="tk">400</text>
<line x1="434.1" y1="584.5" x2="439.90000000000003" y2="584.5" stroke="#111111" stroke-width="1.8"/>
<text x="442.70000000000005" y="590.9" class="tk">600</text>
<line x1="434.1" y1="542.1" x2="439.90000000000003" y2="542.1" stroke="#111111" stroke-width="1.8"/>
<text x="442.70000000000005" y="548.5" class="tk">800</text>
<line x1="434.1" y1="499.8" x2="439.90000000000003" y2="499.8" stroke="#111111" stroke-width="1.8"/>
<text x="442.70000000000005" y="506.2" class="tk">1000</text>
<line x1="434.1" y1="457.4" x2="439.90000000000003" y2="457.4" stroke="#111111" stroke-width="1.8"/>
<text x="442.70000000000005" y="463.8" class="tk">1200</text>
<line x1="101.4" y1="711.6" x2="101.4" y2="718.1" stroke="#111111" stroke-width="1.8"/>
<line x1="171.3" y1="711.6" x2="171.3" y2="718.1" stroke="#111111" stroke-width="1.8"/>
<line x1="239.6" y1="711.6" x2="239.6" y2="718.1" stroke="#111111" stroke-width="1.8"/>
<line x1="316.8" y1="711.6" x2="316.8" y2="718.1" stroke="#111111" stroke-width="1.8"/>
<line x1="392.0" y1="711.6" x2="392.0" y2="718.1" stroke="#111111" stroke-width="1.8"/>
<text transform="translate(105.1 729.8) rotate(-45)" text-anchor="end" class="cat" textLength="92.5" lengthAdjust="spacingAndGlyphs">Presentation</text>
<text transform="translate(175.6 732.0) rotate(-45)" text-anchor="end" class="cat" textLength="55.6" lengthAdjust="spacingAndGlyphs">Week 1</text>
<text transform="translate(246.0 732.9) rotate(-45)" text-anchor="end" class="cat" textLength="55.6" lengthAdjust="spacingAndGlyphs">Week 2</text>
<text transform="translate(322.1 731.5) rotate(-45)" text-anchor="end" class="cat" textLength="55.6" lengthAdjust="spacingAndGlyphs">Week 3</text>
<text transform="translate(396.5 732.3) rotate(-45)" text-anchor="end" class="cat" textLength="55.6" lengthAdjust="spacingAndGlyphs">Week 4</text>
<text transform="translate(26.9 704.5999999999999) rotate(-90)" class="ttl"  textLength="98.9" lengthAdjust="spacingAndGlyphs">PF4/polyanion</text>
<text transform="translate(26.9 600.8) rotate(-90)" class="ttl"  textLength="22.0" lengthAdjust="spacingAndGlyphs">OD</text>
<text transform="translate(26.9 575.8) rotate(-90)" class="ttl"  textLength="44.3" lengthAdjust="spacingAndGlyphs">values</text>
<text transform="translate(26.9 527.6999999999999) rotate(-90)" class="ttl"  textLength="72.7" lengthAdjust="spacingAndGlyphs">(Immucor)</text>
<text transform="translate(493.3 497.09999999999997) rotate(90)" class="ttl" style="fill:#b51e44" textLength="52.3" lengthAdjust="spacingAndGlyphs">Platelet</text>
<text transform="translate(493.3 552.7) rotate(90)" class="ttl" style="fill:#b51e44" textLength="39.0" lengthAdjust="spacingAndGlyphs">count</text>
<text transform="translate(493.3 598.9000000000001) rotate(90)" class="ttl" style="fill:#b51e44" textLength="58.6" lengthAdjust="spacingAndGlyphs">(×10<tspan dy="-6.5" font-size="12">9</tspan><tspan dy="6.5">/L)</tspan></text>
<text x="165.79999999999998" y="796.4" class="ttl" textLength="32.5" lengthAdjust="spacingAndGlyphs">Time</text>
<text x="201.5" y="796.4" class="ttl" textLength="33.3" lengthAdjust="spacingAndGlyphs">from</text>
<text x="239.0" y="796.4" class="ttl" textLength="86.6" lengthAdjust="spacingAndGlyphs">presentation</text>
<text transform="translate(11.6 439.5) scale(0.88 1)" class="lab">B</text>
<rect x="1" y="1" width="518" height="809" fill="none" stroke="#000" stroke-width="2"/>
</svg></body></html>
